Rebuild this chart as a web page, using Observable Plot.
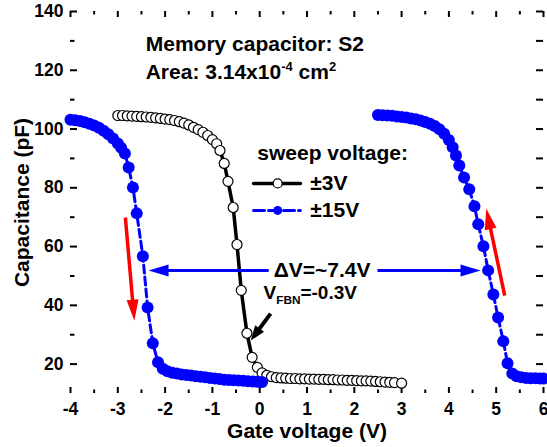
<!DOCTYPE html>
<html><head><meta charset="utf-8">
<script src="https://cdn.jsdelivr.net/npm/d3@7"></script>
<script src="https://cdn.jsdelivr.net/npm/@observablehq/plot@0.6"></script>
<style>body{margin:0;background:#fff}</style>
</head><body><div id="chart"></div>
<script>
// ±3V sweep (black open circles)
const sweep3V_V = [-3.0,-2.9,-2.8,-2.7,-2.6,-2.5,-2.4,-2.3,-2.2,-2.1,-2.0,-1.9,-1.8,-1.7,-1.6,-1.5,-1.4,-1.3,-1.2,-1.1,-1.0,
  -0.91,-0.84,-0.75,-0.67,-0.56,-0.48,-0.39,-0.27,-0.16,-0.05,0.05,0.15,0.25,0.35,0.45,0.55,0.65,0.75,0.85,0.95,
  1.05,1.15,1.25,1.35,1.45,1.55,1.65,1.75,1.85,1.95,2.05,2.15,2.25,2.35,2.45,2.55,2.65,2.75,2.85,3.0];
const sweep3V_C = [104.6,104.6,104.5,104.4,104.3,104.2,104.1,104.0,103.8,103.6,103.4,103.2,102.9,102.5,102.0,101.4,100.6,99.8,98.9,97.8,96.4,
  95.0,92.7,88.3,82.2,73.3,60.7,45.1,30.5,22.3,18.9,17.0,16.2,15.7,15.4,15.3,15.2,15.1,15.1,15.0,15.0,
  14.9,14.9,14.8,14.8,14.7,14.7,14.6,14.6,14.5,14.5,14.4,14.3,14.3,14.2,14.1,14.0,13.9,13.8,13.7,13.5];

// ±15V sweep, left branch (blue filled circles)
const sweep15L_V = [-4.0,-3.9,-3.8,-3.7,-3.6,-3.5,-3.4,-3.3,-3.2,-3.1,-3.0,-2.93,-2.85,-2.77,-2.68,-2.60,-2.47,-2.37,-2.26,-2.15,
  -2.05,-1.95,-1.85,-1.75,-1.65,-1.55,-1.45,-1.35,-1.25,-1.15,-1.05,-0.95,-0.85,-0.75,-0.65,-0.55,-0.45,-0.35,-0.25,-0.15,-0.05,0.05];
const sweep15L_C = [103.2,103.0,102.7,102.3,101.8,101.2,100.4,99.4,98.2,96.8,95.1,93.6,91.7,86.9,80.1,71.3,56.7,39.3,27.1,20.6,
  18.4,17.6,17.1,16.8,16.5,16.3,16.1,15.9,15.7,15.5,15.3,15.1,14.9,14.7,14.6,14.5,14.4,14.3,14.2,14.1,14.0,13.9];

// ±15V sweep, right branch
const sweep15R_V = [2.5,2.6,2.7,2.8,2.9,3.0,3.1,3.2,3.3,3.4,3.5,3.6,3.7,3.8,3.9,4.0,4.08,4.15,4.22,4.32,4.43,4.54,4.62,4.73,4.83,
  4.94,5.04,5.15,5.24,5.34,5.43,5.53,5.63,5.73,5.83,5.93,6.0];
const sweep15R_C = [104.8,104.7,104.6,104.5,104.3,104.1,103.9,103.6,103.3,102.9,102.4,101.8,101.0,99.9,98.4,96.3,93.8,91.0,87.6,83.5,79.5,73.7,67.6,60.1,51.9,
  43.7,35.9,27.8,20.3,16.8,15.9,15.5,15.3,15.2,15.2,15.1,15.1];

const xTicks = [-4,-3,-2,-1,0,1,2,3,4,5,6];
const xMinorTicks = [-3.5,-2.5,-1.5,-0.5,0.5,1.5,2.5,3.5,4.5,5.5];
const yTicks = [20,40,60,80,100,120,140];
const yMinorTicks = [30,50,70,90,110,130];
const xDomain = [-4, 6];
const yDomain = [10, 140];

const W = 547, H = 447, mL = 70, mR = 4, mT = 11, mB = 54;
const innerW = W - mL - mR, innerH = H - mT - mB;
const kx = innerW / (xDomain[1] - xDomain[0]);
const ky = innerH / (yDomain[1] - yDomain[0]);

const zip = (V, C) => V.map((v, i) => ({v, c: C[i]}));
const black = zip(sweep3V_V, sweep3V_C);
const blueL = zip(sweep15L_V, sweep15L_C);
const blueR = zip(sweep15R_V, sweep15R_C);

const BLUE = "#0000ff", RED = "#ff0000";
const FONT = "'Liberation Sans', Arial, Helvetica, sans-serif";

function arrowMarks(x1, y1, x2, y2, color, sw, hl, hw) {
  const dx = (x2 - x1) * kx, dy = -(y2 - y1) * ky;
  const ang = Math.atan2(dx, -dy) * 180 / Math.PI;
  const head = {draw(ctx) { ctx.moveTo(0, 0); ctx.lineTo(-hw / 2, hl); ctx.lineTo(hw / 2, hl); ctx.closePath(); }};
  return [
    Plot.arrow([{x1, y1, x2, y2}], {x1: "x1", y1: "y1", x2: "x2", y2: "y2", stroke: color, strokeWidth: sw,
      headLength: 0, insetEnd: hl * 0.6, strokeLinecap: "butt"}),
    Plot.dot([{x: x2, y: y2}], {x: "x", y: "y", symbol: head, r: 4, rotate: ang, fill: color})
  ];
}

const label = (x, y, text, opts = {}) =>
  Plot.text([{x, y, text}], {x: "x", y: "y", text: "text", textAnchor: "start", lineAnchor: "bottom", fontSize: 21, fill: "black", ...opts});

const plot = Plot.plot({
  width: W, height: H, marginLeft: mL, marginRight: mR, marginTop: mT, marginBottom: mB,
  x: {domain: xDomain}, y: {domain: yDomain},
  style: {fontFamily: FONT, fontSize: "17.5px", fontWeight: "bold", background: "white", color: "black"},
  marks: [
    // ticks pointing inward
    Plot.ruleX(xTicks, {x: d => d, insetTop: innerH - 6, strokeWidth: 2}),
    Plot.ruleX(xMinorTicks, {x: d => d, insetTop: innerH - 3.5, strokeWidth: 2}),
    Plot.ruleX(xTicks, {x: d => d, insetBottom: innerH - 6, strokeWidth: 2}),
    Plot.ruleX(xMinorTicks, {x: d => d, insetBottom: innerH - 3.5, strokeWidth: 2}),
    Plot.ruleY(yTicks, {y: d => d, insetRight: innerW - 7, strokeWidth: 2}),
    Plot.ruleY(yMinorTicks, {y: d => d, insetRight: innerW - 4.5, strokeWidth: 2}),
    Plot.ruleY(yTicks, {y: d => d, insetLeft: innerW - 7, strokeWidth: 2}),
    Plot.ruleY(yMinorTicks, {y: d => d, insetLeft: innerW - 7, strokeWidth: 2}),
    Plot.axisX(xTicks, {tickSize: 0, tickPadding: 9, tickFormat: d => String(d), label: null}),
    Plot.axisY(yTicks, {tickSize: 0, tickPadding: 7, tickFormat: d => String(d), label: null}),
    Plot.text(["Gate voltage (V)"], {frameAnchor: "bottom", dy: 38, lineAnchor: "middle", textAnchor: "middle", fontSize: 21, text: d => d}),
    Plot.text(["Capacitance (pF)"], {frameAnchor: "left", dx: -48, rotate: -90, lineAnchor: "middle", textAnchor: "middle", fontSize: 21, text: d => d}),

    // ±3V
    Plot.line(black, {x: "v", y: "c", stroke: "black", strokeWidth: 3.5}),
    Plot.dot(black, {x: "v", y: "c", r: 5, fill: "white", stroke: "black", strokeWidth: 1.2}),
    // ±15V
    Plot.line(blueL, {x: "v", y: "c", stroke: BLUE, strokeWidth: 3, strokeDasharray: "8,4"}),
    Plot.line(blueR, {x: "v", y: "c", stroke: BLUE, strokeWidth: 3, strokeDasharray: "8,4"}),
    Plot.dot(blueL, {x: "v", y: "c", r: 6, fill: BLUE}),
    Plot.dot(blueR, {x: "v", y: "c", r: 6, fill: BLUE}),

    // annotation texts
    label(-2.41, 126.7, "Memory capacitor: S2"),
    label(-2.41, 116.9, "Area: 3.14x10^{-4} cm^{2}"),
    label(-0.05, 89.3, "sweep voltage:"),

    // legend
    Plot.line([{v: -0.13, c: 81.5}, {v: 0.86, c: 81.5}], {x: "v", y: "c", stroke: "black", strokeWidth: 3.5}),
    Plot.dot([{v: 0.38, c: 81.5}], {x: "v", y: "c", r: 4.5, fill: "white", stroke: "black", strokeWidth: 1.2}),
    Plot.line([{v: -0.13, c: 72.3}, {v: 0.86, c: 72.3}], {x: "v", y: "c", stroke: BLUE, strokeWidth: 3, strokeDasharray: "11,4"}),
    Plot.dot([{v: 0.38, c: 72.3}], {x: "v", y: "c", r: 4.5, fill: BLUE}),
    label(1.07, 81.5, "±3V", {lineAnchor: "middle"}),
    label(1.07, 72.3, "±15V", {lineAnchor: "middle"}),

    // ΔV annotation
    ...arrowMarks(0.19, 51.85, -2.35, 51.85, BLUE, 3, 20, 12),
    ...arrowMarks(2.49, 51.85, 4.67, 51.85, BLUE, 3, 20, 12),
    label(1.32, 51.85, "ΔV=~7.4V", {textAnchor: "middle", lineAnchor: "middle"}),

    // V_FBN
    label(0.08, 42.3, "V_{FBN}=-0.3V", {fontSize: 19}),
    ...arrowMarks(0.23, 37.2, -0.19, 28.0, "black", 4, 15, 11),

    // red sweep-direction arrows
    ...arrowMarks(-2.84, 69.9, -2.65, 34.8, RED, 3.5, 21, 12),
    ...arrowMarks(5.18, 43.3, 4.79, 72.95, RED, 3.5, 21, 12)
  ]
});

document.getElementById("chart").appendChild(plot);

// rich text: ^{...} superscript, _{...} subscript
plot.querySelectorAll("text").forEach(t => {
  const s = t.textContent;
  if (!/[\^_]\{/.test(s)) return;
  const fs = parseFloat(getComputedStyle(t).fontSize) || 20;
  t.textContent = "";
  const re = /([\^_])\{([^}]*)\}/g;
  let last = 0, m, pending = 0;
  const add = (str, dy, small) => {
    const ts = document.createElementNS("http://www.w3.org/2000/svg", "tspan");
    ts.textContent = str;
    if (dy) ts.setAttribute("dy", dy);
    if (small) ts.setAttribute("font-size", (fs * 0.62).toFixed(1));
    t.appendChild(ts);
  };
  while ((m = re.exec(s))) {
    if (m.index > last) { add(s.slice(last, m.index), pending, false); pending = 0; }
    const d = m[1] === "^" ? -fs * 0.4 : fs * 0.3;
    add(m[2], pending + d, true);
    pending = -d;
    last = re.lastIndex;
  }
  if (last < s.length) add(s.slice(last), pending, false);
});
</script>
</body></html>
